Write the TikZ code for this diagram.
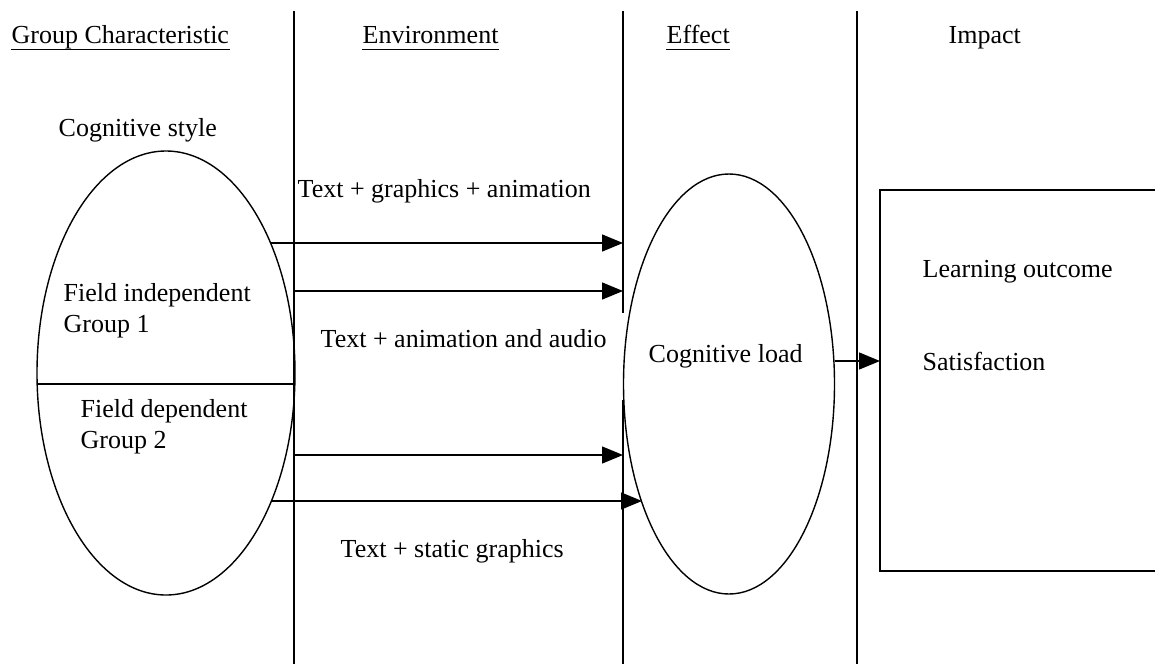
\documentclass[tikz,border=0pt]{standalone}
\usepackage{fontspec}
\setmainfont{Liberation Serif}
\usetikzlibrary{shapes.geometric,arrows.meta}

\begin{document}
\begin{tikzpicture}[x=1pt, y=-1pt, line width=1.4pt,
  lbl/.style = {anchor=base west, inner sep=0pt, font=\fontsize{26}{30}\selectfont},
  oval/.style = {ellipse, draw, inner sep=0pt, outer sep=0pt},
  link/.style = {-{Triangle[length=21pt, width=17pt]}}]

\useasboundingbox (0,0) rectangle (1155,664);
\clip (0,0) rectangle (1155,664);

\node[lbl] (gc) at (11,43) {Group Characteristic};
\node[lbl] (env) at (362,43) {Environment};
\node[lbl] (eff) at (666,43) {Effect};
\node[lbl] (imp) at (948,43) {Impact};
\foreach \h in {gc,env,eff}
  \draw[line width=1pt] ([yshift=-6pt]\h.base west) -- ([yshift=-6pt]\h.base east);

\foreach \x in {294,857}
  \draw (\x,11) -- (\x,664);
\draw (623,11) -- (623,313);
\draw (623,400) -- (623,664);

\node[lbl] (cs) at (58,136) {Cognitive style};
\node[oval, minimum width=258pt, minimum height=444pt] (grp) at (166,373) {};
\coordinate (cut) at (0,384);
\draw (grp.west |- cut) -- (grp.east |- cut);

\node[lbl] (fi) at (63,301) {Field independent};
\node[lbl] (g1) at (63,332) {Group 1};
\node[lbl] (fd) at (80,417) {Field dependent};
\node[lbl] (g2) at (80,448) {Group 2};

\node[lbl] (tga) at (297,197) {Text + graphics + animation};
\node[lbl] (taa) at (320,347) {Text + animation and audio};
\node[lbl] (tsg) at (340,557) {Text + static graphics};

\node[oval, minimum width=211pt, minimum height=420pt] (cl) at (729,384) {};
\node[lbl] (cll) at (648,362) {Cognitive load};

\node[draw, anchor=north west, inner sep=0pt, outer sep=0pt,
  minimum width=300pt, minimum height=381pt] (res) at (880,190) {};
\node[lbl] (lo) at (922,277) {Learning outcome};
\node[lbl] (sat) at (922,370) {Satisfaction};

\coordinate (a1s) at (271,243);
\coordinate (a1e) at (623,243);
\coordinate (a2s) at (294,291);
\coordinate (a2e) at (623,291);
\coordinate (a3s) at (294,455);
\coordinate (a3e) at (623,455);
\coordinate (a4s) at (271,501);
\coordinate (a4e) at (642,501);
\coordinate (a5) at (0,361);

\draw[link] (a1s) -- (a1e);
\draw[link] (a2s) -- (a2e);
\draw[link] (a3s) -- (a3e);
\draw[link] (a4s) -- (a4e);
\draw[link] (cl.east |- a5) -- (res.west |- a5);

\end{tikzpicture}
\end{document}
